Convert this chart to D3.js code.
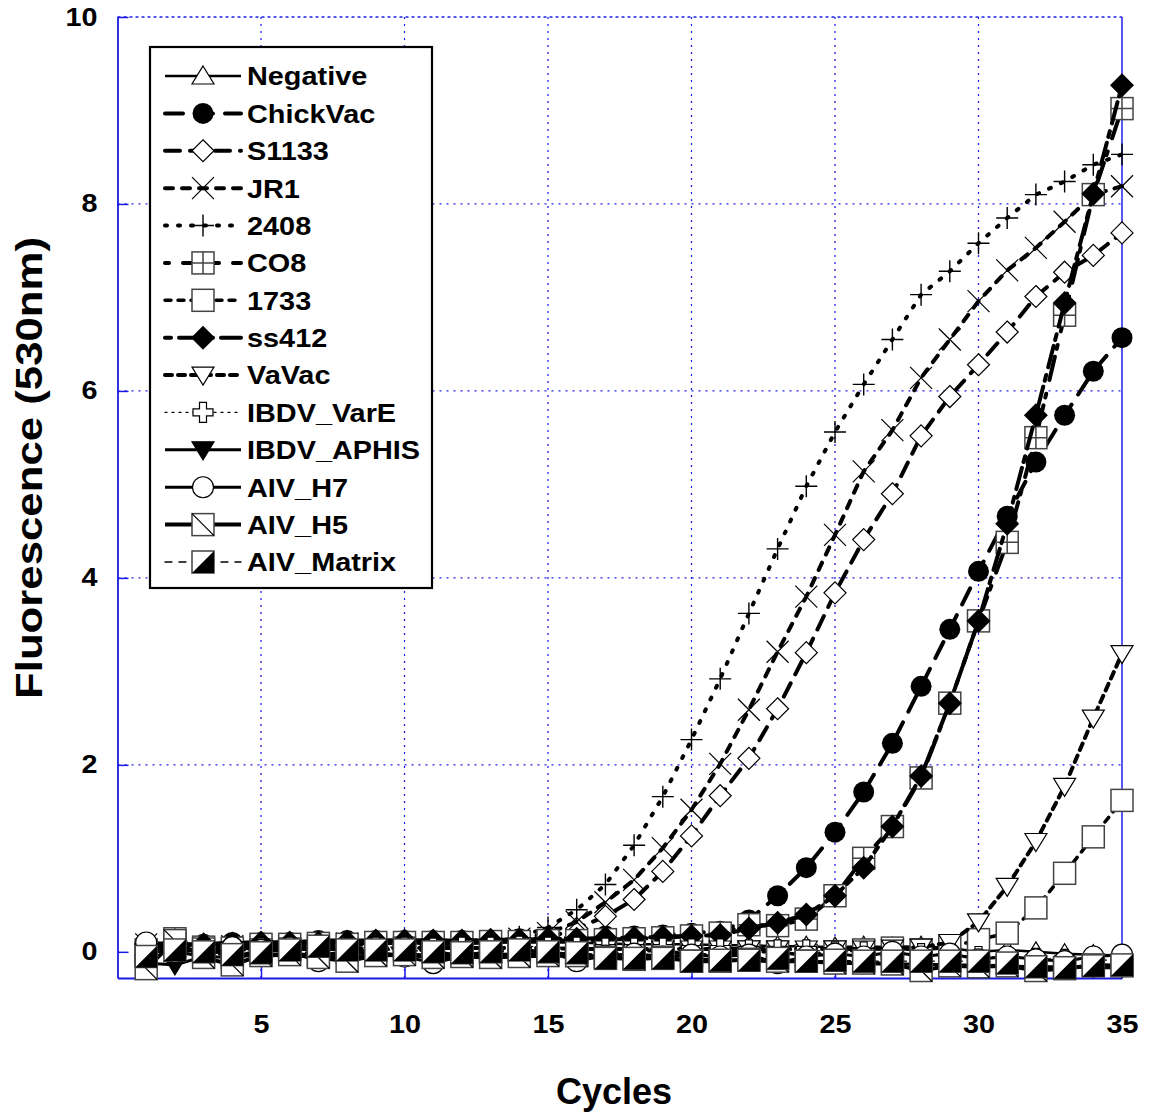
<!DOCTYPE html>
<html>
<head>
<meta charset="utf-8">
<script src="https://cdn.jsdelivr.net/npm/d3@7"></script>
<style>
  body { margin: 0; background: #fff; }
  text { font-family: "Liberation Sans", Arial, sans-serif; font-weight: bold; fill: #000; }
</style>
</head>
<body>
<svg width="1149" height="1116"></svg>
<script>
// cycles 1..35
const cycles = d3.range(1, 36);

const negative   = [0.02,-0.02,0.04,0.03,0.06,0.09,0.10,0.09,0.10,0.10,0.09,0.10,0.10,0.10,0.10,0.10,0.09,0.08,0.08,0.08,0.07,0.07,0.06,0.06,0.05,0.06,0.05,0.06,0.04,0.00,0.02,0.00,-0.02,-0.03,-0.04];
const chickVac   = [0.10,0.08,0.08,0.10,0.10,0.10,0.12,0.12,0.12,0.12,0.12,0.12,0.12,0.14,0.15,0.15,0.17,0.17,0.18,0.20,0.22,0.34,0.60,0.90,1.28,1.71,2.23,2.84,3.45,4.07,4.66,5.24,5.74,6.21,6.57];
const s1133      = [0.06,0.05,0.04,0.05,0.06,0.06,0.07,0.07,0.08,0.08,0.08,0.09,0.10,0.12,0.15,0.25,0.38,0.56,0.86,1.24,1.67,2.07,2.60,3.20,3.84,4.41,4.90,5.52,5.94,6.28,6.63,7.01,7.27,7.45,7.69];
const jr1        = [0.08,0.06,0.05,0.06,0.07,0.08,0.08,0.09,0.09,0.10,0.10,0.10,0.11,0.14,0.20,0.32,0.53,0.77,1.11,1.52,2.01,2.59,3.21,3.80,4.46,5.14,5.58,6.14,6.55,6.96,7.29,7.53,7.81,8.10,8.19];
const s2408      = [0.08,0.07,0.06,0.07,0.08,0.08,0.09,0.09,0.10,0.10,0.10,0.11,0.12,0.16,0.26,0.45,0.72,1.14,1.66,2.27,2.92,3.62,4.31,4.98,5.56,6.07,6.55,7.03,7.28,7.58,7.85,8.10,8.24,8.42,8.53];
const co8        = [0.02,0.14,0.05,0.04,0.08,0.08,0.09,0.08,0.10,0.10,0.10,0.10,0.11,0.11,0.12,0.12,0.13,0.14,0.15,0.17,0.20,0.29,0.28,0.35,0.60,1.00,1.34,1.86,2.66,3.54,4.38,5.50,6.81,8.10,9.02];
const s1733      = [-0.02,0.10,0.03,-0.06,0.02,0.03,-0.04,0.00,0.02,0.04,0.00,-0.04,0.00,0.02,0.00,-0.04,-0.02,0.00,0.02,-0.04,-0.02,0.00,0.00,-0.04,0.00,0.02,0.04,0.02,0.05,0.13,0.20,0.47,0.84,1.23,1.62];
const ss412      = [0.08,0.07,0.08,0.09,0.10,0.10,0.10,0.11,0.12,0.12,0.12,0.12,0.13,0.13,0.14,0.14,0.15,0.15,0.16,0.17,0.18,0.25,0.31,0.40,0.60,0.90,1.34,1.88,2.66,3.54,4.58,5.74,6.94,8.11,9.27];
const vaVac      = [0.00,0.02,0.01,0.02,0.03,0.03,0.03,0.03,0.04,0.04,0.04,0.04,0.04,0.04,0.04,0.03,0.03,0.03,0.03,0.03,0.03,0.03,0.03,0.03,0.03,0.03,0.04,0.05,0.10,0.32,0.70,1.18,1.77,2.50,3.19];
const ibdvVarE   = [0.05,0.03,0.00,0.02,0.04,0.05,0.04,0.03,0.05,0.05,0.04,0.05,0.05,0.06,0.05,0.05,0.04,0.04,0.04,0.03,0.03,0.02,0.02,0.02,0.00,0.00,-0.02,-0.02,-0.03,-0.05,-0.06,-0.07,-0.08,-0.08,-0.10];
const ibdvAphis  = [-0.12,-0.14,-0.05,-0.06,-0.03,-0.02,-0.03,-0.05,-0.03,-0.02,-0.04,-0.03,-0.03,-0.02,-0.02,-0.03,-0.05,-0.06,-0.07,-0.08,-0.08,-0.10,-0.10,-0.10,-0.12,-0.12,-0.13,-0.13,-0.14,-0.14,-0.15,-0.16,-0.16,-0.17,-0.17];
const aivH7      = [0.10,0.00,-0.05,0.05,0.02,0.00,-0.10,-0.02,0.00,-0.05,-0.12,-0.05,-0.02,-0.05,0.00,-0.10,-0.04,-0.02,-0.05,-0.03,-0.05,-0.03,-0.12,-0.05,-0.02,-0.05,0.00,-0.05,-0.02,-0.08,-0.05,-0.08,-0.10,-0.05,-0.03];
const aivH5      = [-0.18,0.12,-0.06,-0.14,-0.04,-0.03,-0.06,-0.10,-0.04,-0.03,-0.06,-0.05,-0.06,-0.05,-0.04,-0.04,-0.06,-0.08,-0.06,-0.10,-0.10,-0.08,-0.10,-0.10,-0.12,-0.12,-0.13,-0.20,-0.15,-0.16,-0.15,-0.20,-0.18,-0.14,-0.15];
const aivMatrix  = [-0.05,0.02,0.00,-0.03,-0.01,0.02,0.06,0.02,0.02,0.02,0.00,-0.01,0.00,0.02,0.00,-0.01,-0.07,-0.07,-0.07,-0.10,-0.09,-0.09,-0.07,-0.10,-0.09,-0.10,-0.10,-0.10,-0.10,-0.10,-0.12,-0.16,-0.17,-0.15,-0.14];

const xTicks = [5, 10, 15, 20, 25, 30, 35];
const yTicks = [0, 2, 4, 6, 8, 10];

const svg = d3.select('svg');
const x = d3.scaleLinear().domain([0, 35]).range([117.5, 1122]);
const y = d3.scaleLinear().domain([-0.28, 10]).range([978, 17]);

// marker drawing
const sq = 11;
const drawMarker = (g, type) => {
  switch (type) {
    case 'triUp':
      g.append('path').attr('d', 'M0,-10L11,8L-11,8Z').attr('fill', '#fff').attr('stroke', '#000').attr('stroke-width', 1.2); break;
    case 'triDown':
      g.append('path').attr('d', 'M0,10L11,-8L-11,-8Z').attr('fill', '#fff').attr('stroke', '#000').attr('stroke-width', 1.2); break;
    case 'triDownFill':
      g.append('path').attr('d', 'M0,10L11,-8L-11,-8Z').attr('fill', '#000').attr('stroke', '#000').attr('stroke-width', 1.2); break;
    case 'circleFill':
      g.append('circle').attr('r', 10.5).attr('fill', '#000'); break;
    case 'circleOpen':
      g.append('circle').attr('r', 10.5).attr('fill', '#fff').attr('stroke', '#000').attr('stroke-width', 1.2); break;
    case 'diamondOpen':
      g.append('path').attr('d', 'M0,-11L11,0L0,11L-11,0Z').attr('fill', '#fff').attr('stroke', '#000').attr('stroke-width', 1.2); break;
    case 'diamondFill':
      g.append('path').attr('d', 'M0,-12L12,0L0,12L-12,0Z').attr('fill', '#000'); break;
    case 'x':
      g.append('path').attr('d', 'M-11,-11L11,11M-11,11L11,-11').attr('stroke', '#000').attr('stroke-width', 1.2); break;
    case 'plus':
      g.append('path').attr('d', 'M-11,0L11,0M0,-11L0,11').attr('stroke', '#000').attr('stroke-width', 1.4); break;
    case 'plusOpen':
      g.append('path').attr('d', 'M-3.5,-10H3.5V-3.5H10V3.5H3.5V10H-3.5V3.5H-10V-3.5H-3.5Z').attr('fill', '#fff').attr('stroke', '#000').attr('stroke-width', 1.2); break;
    case 'squareOpen':
      g.append('rect').attr('x', -sq).attr('y', -sq).attr('width', 2 * sq).attr('height', 2 * sq)
        .attr('fill', '#fff').attr('stroke', '#444').attr('stroke-width', 1.5); break;
    case 'squareCross':
      g.append('rect').attr('x', -sq).attr('y', -sq).attr('width', 2 * sq).attr('height', 2 * sq)
        .attr('fill', '#fff').attr('stroke', '#444').attr('stroke-width', 1.5);
      g.append('path').attr('d', `M-${sq},0H${sq}M0,-${sq}V${sq}`).attr('stroke', '#444').attr('stroke-width', 1.5); break;
    case 'squareDiag':
      g.append('rect').attr('x', -sq).attr('y', -sq).attr('width', 2 * sq).attr('height', 2 * sq)
        .attr('fill', '#fff').attr('stroke', '#444').attr('stroke-width', 1.5);
      g.append('path').attr('d', `M-${sq},-${sq}L${sq},${sq}`).attr('stroke', '#000').attr('stroke-width', 1.3); break;
    case 'squareHalf':
      g.append('rect').attr('x', -sq).attr('y', -sq).attr('width', 2 * sq).attr('height', 2 * sq)
        .attr('fill', '#fff').attr('stroke', '#444').attr('stroke-width', 1.5);
      g.append('path').attr('d', `M-${sq},${sq}L${sq},-${sq}L${sq},${sq}Z`).attr('fill', '#000'); break;
  }
};

const series = [
  { name: 'Negative',    values: negative,  marker: 'triUp',       dash: null,          width: 2.5 },
  { name: 'ChickVac',    values: chickVac,  marker: 'circleFill',  dash: '18,12',       width: 4 },
  { name: 'S1133',       values: s1133,     marker: 'diamondOpen', dash: '15,10',       width: 4 },
  { name: 'JR1',         values: jr1,       marker: 'x',           dash: '8,9',         width: 4 },
  { name: '2408',        values: s2408,     marker: 'plus',        dash: '2,11',        width: 4 },
  { name: 'CO8',         values: co8,       marker: 'squareCross', dash: '4,14,24,8',   width: 4 },
  { name: '1733',        values: s1733,     marker: 'squareOpen',  dash: '6,7,6,7,18,7', width: 3.5 },
  { name: 'ss412',       values: ss412,     marker: 'diamondFill', dash: '6,8,22,6',    width: 4 },
  { name: 'VaVac',       values: vaVac,     marker: 'triDown',     dash: '7,6',         width: 4 },
  { name: 'IBDV_VarE',   values: ibdvVarE,  marker: 'plusOpen',    dash: '2,5',         width: 1.2 },
  { name: 'IBDV_APHIS',  values: ibdvAphis, marker: 'triDownFill', dash: null,          width: 3 },
  { name: 'AIV_H7',      values: aivH7,     marker: 'circleOpen',  dash: null,          width: 3 },
  { name: 'AIV_H5',      values: aivH5,     marker: 'squareDiag',  dash: null,          width: 4 },
  { name: 'AIV_Matrix',  values: aivMatrix, marker: 'squareHalf',  dash: '7,7',         width: 1.3 }
];

// grid
const grid = svg.append('g');
grid.selectAll('.gx').data(xTicks.filter(d => d < 35)).enter().append('line')
  .attr('x1', d => x(d)).attr('x2', d => x(d)).attr('y1', y(10)).attr('y2', y(-0.28))
  .attr('stroke', '#2222ee').attr('stroke-width', 1.3).attr('stroke-dasharray', '2,5');
grid.selectAll('.gy').data(yTicks.filter(d => d > 0 && d < 10)).enter().append('line')
  .attr('x1', x(0)).attr('x2', x(35)).attr('y1', d => y(d)).attr('y2', d => y(d))
  .attr('stroke', '#2222ee').attr('stroke-width', 1.3).attr('stroke-dasharray', '2,5');
// top dotted border
grid.append('line').attr('x1', x(0)).attr('x2', x(35)).attr('y1', y(10)).attr('y2', y(10))
  .attr('stroke', '#2222ee').attr('stroke-width', 1.3).attr('stroke-dasharray', '3,3');
// right border
grid.append('line').attr('x1', x(35)).attr('x2', x(35)).attr('y1', y(10)).attr('y2', y(-0.28))
  .attr('stroke', '#2222ee').attr('stroke-width', 1.5);

// axes
const xAxis = svg.append('g').attr('transform', `translate(0, ${y(-0.28)})`)
  .call(d3.axisBottom(x).tickValues(xTicks).tickSizeInner(-11).tickSizeOuter(0).tickPadding(37));
const yAxis = svg.append('g').attr('transform', `translate(${x(0)}, 0)`)
  .call(d3.axisLeft(y).tickValues(yTicks).tickSizeInner(-11).tickSizeOuter(0).tickPadding(20));
[xAxis, yAxis].forEach(a => {
  a.select('.domain').attr('stroke', '#1a1ae6').attr('stroke-width', 1.8);
  a.selectAll('.tick line').attr('stroke', '#1a1ae6').attr('stroke-width', 1.5);
  a.selectAll('.tick text').attr('font-size', 25).attr('font-weight', 'bold')
    .attr('font-family', '"Liberation Sans", Arial, sans-serif').attr('fill', '#000');
});
xAxis.selectAll('.tick text').attr('transform', 'scale(1.15,1)');
yAxis.selectAll('.tick text').attr('transform', 'translate(-20,0) scale(1.15,1) translate(20,0)');

// series
const line = d3.line().x((d, i) => x(cycles[i])).y(d => y(d));
const plot = svg.append('g');
series.forEach(s => {
  plot.append('path').datum(s.values).attr('d', line)
    .attr('fill', 'none').attr('stroke', '#000').attr('stroke-width', s.width)
    .attr('stroke-linecap', s.dash ? 'round' : 'butt')
    .attr('stroke-dasharray', s.dash);
  s.values.forEach((v, i) => {
    const m = plot.append('g').attr('transform', `translate(${x(cycles[i])},${y(v)})`);
    drawMarker(m, s.marker);
  });
});

// legend
const legend = svg.append('g');
legend.append('rect').attr('x', 150).attr('y', 47).attr('width', 282).attr('height', 541)
  .attr('fill', '#fff').attr('stroke', '#000').attr('stroke-width', 2.2);
const rowY = d3.scaleLinear().domain([0, series.length - 1]).range([76, 562]);
series.forEach((s, i) => {
  const row = legend.append('g').attr('transform', `translate(0, ${rowY(i)})`);
  row.append('line').attr('x1', 165).attr('x2', 241).attr('y1', 0).attr('y2', 0)
    .attr('stroke', '#000').attr('stroke-width', s.width)
    .attr('stroke-linecap', s.dash ? 'round' : 'butt')
    .attr('stroke-dasharray', s.dash);
  drawMarker(row.append('g').attr('transform', 'translate(203,0)'), s.marker);
  row.append('text').attr('transform', 'translate(247,0) scale(1.11,1)')
    .attr('dy', '0.36em').attr('font-size', 26).text(s.name);
});

// axis titles
svg.append('text').attr('x', 614).attr('y', 1104).attr('text-anchor', 'middle')
  .attr('font-size', 36).text('Cycles');
svg.append('text').attr('transform', 'translate(42, 468) rotate(-90)').attr('text-anchor', 'middle')
  .attr('font-size', 36).attr('textLength', 462).attr('lengthAdjust', 'spacingAndGlyphs')
  .text('Fluorescence (530nm)');
</script>
</body>
</html>
